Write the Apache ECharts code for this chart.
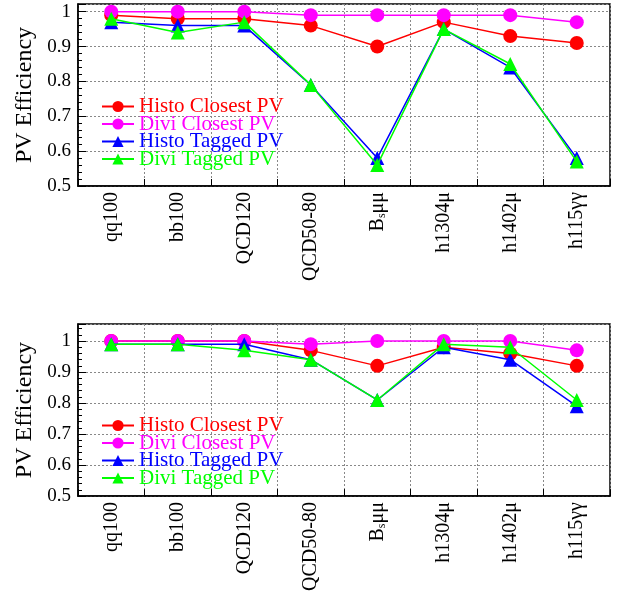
<!DOCTYPE html>
<html><head><meta charset="utf-8">
<script src="https://cdn.jsdelivr.net/npm/echarts@6/dist/echarts.min.js"></script>
<style>html,body{margin:0;padding:0;background:#fff}#c{width:627px;height:594px}</style>
</head><body><div id="c"></div>
<script>
const categories = ['qq100','bb100','QCD120','QCD50-80','Bsμμ','h1304μ','h1402μ','h115γγ'];
const seriesNames = ['Histo Closest PV','Divi Closest PV','Histo Tagged PV','Divi Tagged PV'];
const colors = ['#ff0000','#ff00ff','#0000ff','#00ff00'];
const symbols = ['circle','circle','triangle','triangle'];
// top panel
const topHistoClosest = [0.99,0.98,0.98,0.96,0.90,0.97,0.93,0.91];
const topDiviClosest  = [1.00,1.00,1.00,0.99,0.99,0.99,0.99,0.97];
const topHistoTagged  = [0.97,0.96,0.96,0.79,0.58,0.95,0.84,0.58];
const topDiviTagged   = [0.98,0.94,0.97,0.79,0.56,0.95,0.85,0.57];
// bottom panel
const botHistoClosest = [1.00,1.00,1.00,0.97,0.92,0.98,0.96,0.92];
const botDiviClosest  = [1.00,1.00,1.00,0.99,1.00,1.00,1.00,0.97];
const botHistoTagged  = [0.99,0.99,0.99,0.94,0.81,0.98,0.94,0.79];
const botDiviTagged   = [0.99,0.99,0.97,0.94,0.81,0.99,0.98,0.81];

const FONT = 'Liberation Serif';
const chart = echarts.init(document.getElementById('c'), null, {renderer:'canvas'});

function fmtCat(v){
  if (v === 'Bsμμ') return '{n|B}{s|s}{n|μμ}';
  return '{n|' + v + '}';
}
function xAxis(gi){
  return {
    type:'category', gridIndex:gi, data:categories, boundaryGap:true,
    axisLine:{show:true, lineStyle:{color:'#000', width:1.5}},
    axisTick:{show:true, inside:true, length:7, lineStyle:{color:'#000'}},
    splitLine:{show:true, lineStyle:{color:'#888', type:[2,2], width:1}},
    axisLabel:{rotate:90, margin:6, fontFamily:FONT, fontSize:20, color:'#000', formatter:fmtCat,
      rich:{n:{fontFamily:FONT, fontSize:20, color:'#000'}, s:{fontFamily:FONT, fontSize:12, color:'#000', verticalAlign:'bottom', padding:[10,0,0,0]}}}
  };
}
function yAxis(gi, max){
  return {
    type:'value', gridIndex:gi, min:0.5, max:max, interval:0.1,
    name:'PV Efficiency', nameLocation:'middle', nameRotate:90, nameGap:38,
    nameTextStyle:{fontFamily:FONT, fontSize:24, color:'#000'},
    axisLine:{show:true, lineStyle:{color:'#000', width:1.5}},
    axisTick:{show:true, inside:true, length:8, lineStyle:{color:'#000'}},
    minorTick:{show:true, splitNumber:5, length:4, lineStyle:{color:'#000'}},
    splitLine:{show:true, lineStyle:{color:'#888', type:[2,2], width:1}},
    axisLabel:{margin:7, fontFamily:FONT, fontSize:19, color:'#000', showMaxLabel:false,
      formatter:function(v){ const r=Math.round(v*10)/10; return Math.abs(r-v)<1e-6 ? String(r) : ''; }}
  };
}
const topData = [topHistoClosest, topDiviClosest, topHistoTagged, topDiviTagged];
const botData = [botHistoClosest, botDiviClosest, botHistoTagged, botDiviTagged];
const series = [];
[topData, botData].forEach(function(set, gi){
  set.forEach(function(d, i){
    series.push({
      type:'line', name:seriesNames[i], xAxisIndex:gi, yAxisIndex:gi, data:d,
      symbol:symbols[i], symbolSize:14, showAllSymbol:true,
      lineStyle:{color:colors[i], width:1.5}, itemStyle:{color:colors[i]},
      z: 2+i, animation:false
    });
  });
});
function legend(top){
  return {
    orient:'vertical', left:96, top:top, itemWidth:32, itemHeight:14, itemGap:-3.5,
    selectedMode:false,
    textStyle:{fontFamily:FONT, fontSize:21},
    data: seriesNames.map(function(n,i){ return {name:n, textStyle:{color:colors[i]}}; })
  };
}
chart.setOption({
  animation:false,
  backgroundColor:'#fff',
  grid:[
    {left:78, right:17, top:4, height:182, show:true, borderColor:'#000', borderWidth:1.5, backgroundColor:'transparent'},
    {left:78, right:17, top:324, height:184, show:true, borderColor:'#000', borderWidth:1.5, backgroundColor:'transparent'}
  ],
  xAxis:[xAxis(0), xAxis(1)],
  yAxis:[yAxis(0, 1.022), yAxis(1, 1.055)],
  legend:[legend(91), legend(410)],
  series:series
});
</script></body></html>
